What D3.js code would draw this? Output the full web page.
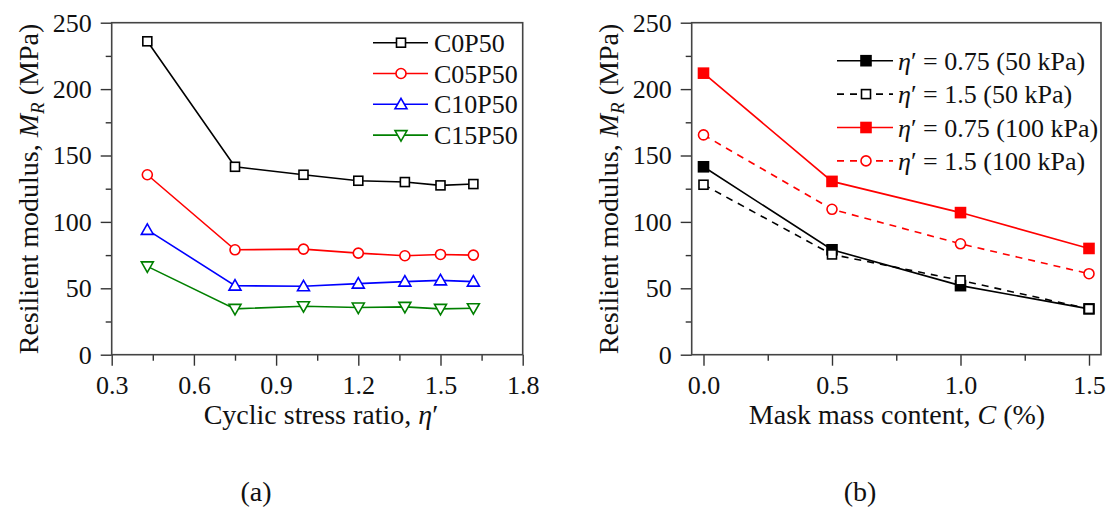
<!DOCTYPE html>
<html>
<head>
<meta charset="utf-8">
<script src="https://cdn.jsdelivr.net/npm/d3@7"></script>
<style>
  body { margin: 0; background: #fff; }
  svg text { font-family: "Liberation Serif", "Times New Roman", serif; fill: #111; }
</style>
</head>
<body>
<svg id="chart" width="1109" height="508"></svg>
<script>
// ---- data: panel (a) ----
const stressRatio = [0.43, 0.75, 1.0, 1.2, 1.37, 1.5, 1.62];
const c0p50  = [236, 141.5, 135.5, 131, 130, 127.5, 128.5];
const c05p50 = [135.5, 79, 79.5, 76.5, 74.5, 75.5, 75];
const c10p50 = [94, 52, 51.5, 53.5, 55, 56, 55];
const c15p50 = [66.5, 34.5, 36.5, 35.5, 36, 34.5, 35];
const namesA = ["C0P50", "C05P50", "C10P50", "C15P50"];

// ---- data: panel (b) ----
const maskContent = [0, 0.5, 1.0, 1.5];
const eta075p50  = [141.5, 79, 52, 34.5];
const eta15p50   = [128, 75.5, 56, 34.5];
const eta075p100 = [212, 130.5, 107, 80];
const eta15p100  = [165.5, 109.5, 83.5, 61];
const namesB = [["0.75", "50"], ["1.5", "50"], ["0.75", "100"], ["1.5", "100"]];

const yTicks = [0, 50, 100, 150, 200, 250];
const yMinor = [25, 75, 125, 175, 225];
const xTicksA = [0.3, 0.6, 0.9, 1.2, 1.5, 1.8];
const xMinorA = [0.45, 0.75, 1.05, 1.35, 1.65];
const xTicksB = [0, 0.5, 1.0, 1.5];
const xMinorB = [0.25, 0.75, 1.25];

const svg = d3.select("#chart");
const FONT = 26;        // ticks and legends
const TITLE_FONT = 28;  // axis titles

function drawPanel({ x, y, left, right, top, bottom, xTicks, xMinor, xFormat }) {
    const g = svg.append("g");

    // major and minor ticks, outward
    g.append("g").attr("transform", `translate(0,${bottom})`)
        .call(d3.axisBottom(x).tickValues(xMinor).tickSize(6).tickFormat(""));
    g.append("g").attr("transform", `translate(0,${bottom})`)
        .call(d3.axisBottom(x).tickValues(xTicks).tickSize(11).tickPadding(10).tickFormat(xFormat));
    g.append("g").attr("transform", `translate(${left},0)`)
        .call(d3.axisLeft(y).tickValues(yMinor).tickSize(6).tickFormat(""));
    g.append("g").attr("transform", `translate(${left},0)`)
        .call(d3.axisLeft(y).tickValues(yTicks).tickSize(11).tickPadding(9).tickFormat(d3.format("d")));

    g.selectAll(".domain").remove();
    g.selectAll(".tick line").attr("stroke", "#333").attr("stroke-width", 1.4);
    g.selectAll(".tick text").attr("font-size", FONT).attr("fill", "#111")
        .style("font-family", "'Liberation Serif', serif");

    // frame
    g.append("rect")
        .attr("x", left).attr("y", top)
        .attr("width", right - left).attr("height", bottom - top)
        .attr("fill", "none")
        .attr("stroke", "#444")
        .attr("stroke-width", 1.6);
    return g;
}

function marker(g, shape, cx, cy, color, filled) {
    const fill = filled ? color : "#fff";
    if (shape === "square") {
        const s = filled ? 10 : 9;
        g.append("rect").attr("x", cx - s / 2).attr("y", cy - s / 2)
            .attr("width", s).attr("height", s)
            .attr("fill", fill).attr("stroke", color).attr("stroke-width", 1.6);
    } else if (shape === "circle") {
        g.append("circle").attr("cx", cx).attr("cy", cy).attr("r", 5)
            .attr("fill", fill).attr("stroke", color).attr("stroke-width", 1.6);
    } else {
        const h = 6;
        const pts = shape === "up"
            ? [[cx, cy - h], [cx + h, cy + h * 0.75], [cx - h, cy + h * 0.75]]
            : [[cx, cy + h], [cx + h, cy - h * 0.75], [cx - h, cy - h * 0.75]];
        g.append("polygon").attr("points", pts.map(p => p.join(",")).join(" "))
            .attr("fill", fill).attr("stroke", color).attr("stroke-width", 1.6);
    }
}

function yLabel(cx, cy) {
    const t = svg.append("text")
        .attr("transform", `translate(${cx},${cy}) rotate(-90)`)
        .attr("text-anchor", "middle")
        .attr("font-size", TITLE_FONT);
    t.append("tspan").text("Resilient modulus, ");
    t.append("tspan").attr("font-style", "italic").text("M");
    t.append("tspan").attr("font-style", "italic").attr("font-size", 19).attr("dy", 6).text("R");
    t.append("tspan").attr("dy", -6).text(" (MPa)");
}

// ---------- panel (a) ----------
const xA = d3.scaleLinear().domain([0.3, 1.8]).range([111.7, 522.7]);
const yA = d3.scaleLinear().domain([0, 250]).range([354.7, 22.7]);
const gA = drawPanel({ x: xA, y: yA, left: 111.7, right: 522.7, top: 22.7, bottom: 354.7,
    xTicks: xTicksA, xMinor: xMinorA, xFormat: d3.format(".1f") });

const seriesA = [
    { name: namesA[0], values: c0p50,  color: "#000000", shape: "square" },
    { name: namesA[1], values: c05p50, color: "#ff0000", shape: "circle" },
    { name: namesA[2], values: c10p50, color: "#0000ff", shape: "up" },
    { name: namesA[3], values: c15p50, color: "#008000", shape: "down" }
];

const lineA = d3.line().x(d => xA(d[0])).y(d => yA(d[1]));
seriesA.forEach(s => {
    const pts = stressRatio.map((v, i) => [v, s.values[i]]);
    gA.append("path").attr("d", lineA(pts))
        .attr("fill", "none").attr("stroke", s.color).attr("stroke-width", 1.6);
    pts.forEach(p => marker(gA, s.shape, xA(p[0]), yA(p[1]), s.color, false));
});

// legend (a)
seriesA.forEach((s, i) => {
    const ly = 42.7 + i * 30.8;
    gA.append("line").attr("x1", 373).attr("x2", 428).attr("y1", ly).attr("y2", ly)
        .attr("stroke", s.color).attr("stroke-width", 1.6);
    marker(gA, s.shape, 401, ly, s.color, false);
    gA.append("text").attr("x", 434).attr("y", ly + 9)
        .attr("font-size", FONT).text(s.name);
});

yLabel(38, 189);
const xlA = svg.append("text").attr("x", 321).attr("y", 424)
    .attr("text-anchor", "middle").attr("font-size", TITLE_FONT);
xlA.append("tspan").text("Cyclic stress ratio, ");
xlA.append("tspan").attr("font-style", "italic").text("η");
xlA.append("tspan").text("′");

svg.append("text").attr("x", 256).attr("y", 501)
    .attr("text-anchor", "middle").attr("font-size", TITLE_FONT).text("(a)");

// ---------- panel (b) ----------
const xB = d3.scaleLinear().domain([0, 1.5]).range([703.5, 1089]);
const yB = d3.scaleLinear().domain([0, 250]).range([354.7, 22.7]);
const gB = drawPanel({ x: xB, y: yB, left: 691.7, right: 1101, top: 22.7, bottom: 354.7,
    xTicks: xTicksB, xMinor: xMinorB, xFormat: d3.format(".1f") });

const seriesB = [
    { label: namesB[0], values: eta075p50,  color: "#000000", shape: "square", filled: true,  dash: null },
    { label: namesB[1], values: eta15p50,   color: "#000000", shape: "square", filled: false, dash: "7,6" },
    { label: namesB[2], values: eta075p100, color: "#ff0000", shape: "square", filled: true,  dash: null },
    { label: namesB[3], values: eta15p100,  color: "#ff0000", shape: "circle", filled: false, dash: "7,6" }
];

const lineB = d3.line().x(d => xB(d[0])).y(d => yB(d[1]));
seriesB.forEach(s => {
    const pts = maskContent.map((v, i) => [v, s.values[i]]);
    gB.append("path").attr("d", lineB(pts))
        .attr("fill", "none").attr("stroke", s.color).attr("stroke-width", 1.6)
        .attr("stroke-dasharray", s.dash);
    pts.forEach(p => marker(gB, s.shape, xB(p[0]), yB(p[1]), s.color, s.filled));
});

// legend (b)
seriesB.forEach((s, i) => {
    const ly = 60.7 + i * 33.4;
    gB.append("line").attr("x1", 837).attr("x2", 893).attr("y1", ly).attr("y2", ly)
        .attr("stroke", s.color).attr("stroke-width", 1.6)
        .attr("stroke-dasharray", s.dash);
    marker(gB, s.shape, 866, ly, s.color, s.filled);
    const t = gB.append("text").attr("x", 898).attr("y", ly + 9).attr("font-size", FONT);
    t.append("tspan").attr("font-style", "italic").text("η");
    t.append("tspan").text(`′ = ${s.label[0]} (${s.label[1]} kPa)`);
});

yLabel(618, 189);
const xlB = svg.append("text").attr("x", 897).attr("y", 424)
    .attr("text-anchor", "middle").attr("font-size", TITLE_FONT);
xlB.append("tspan").text("Mask mass content, ");
xlB.append("tspan").attr("font-style", "italic").text("C");
xlB.append("tspan").text(" (%)");

svg.append("text").attr("x", 860).attr("y", 501)
    .attr("text-anchor", "middle").attr("font-size", TITLE_FONT).text("(b)");
</script>
</body>
</html>
